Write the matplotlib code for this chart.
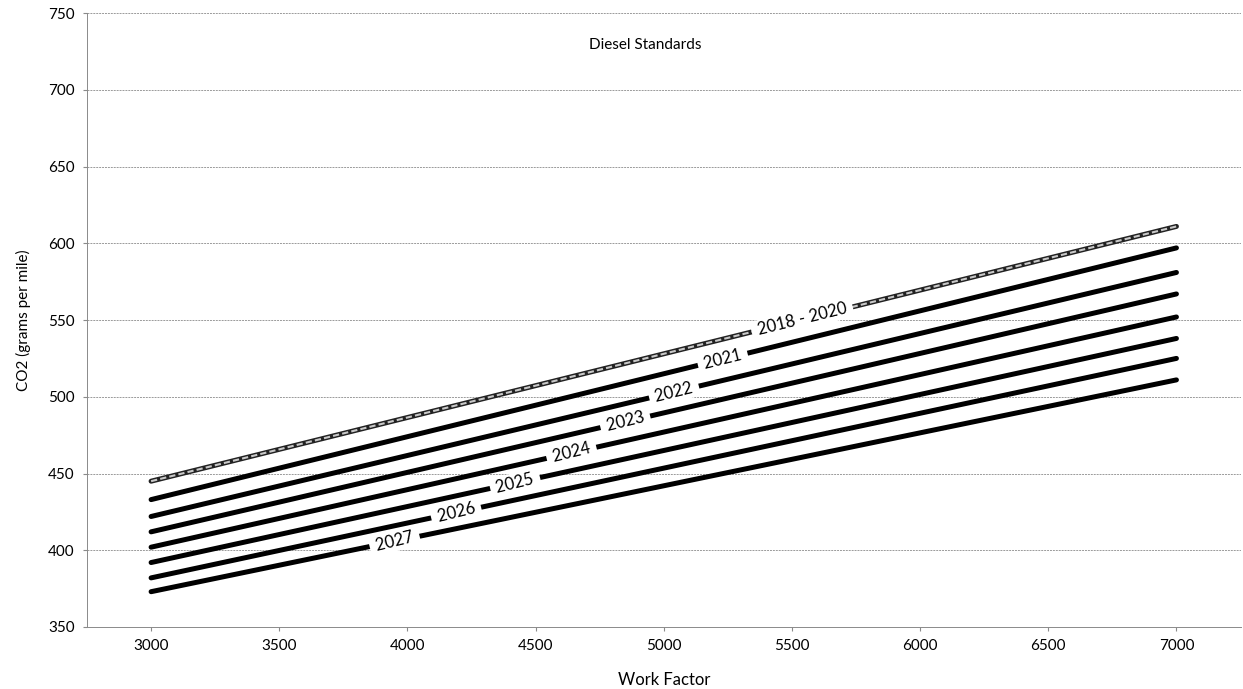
import matplotlib
matplotlib.use('Agg')
import matplotlib.pyplot as plt
import numpy as np

plt.rcParams['font.family'] = ['Lato', 'DejaVu Sans']

# 工作系数两个端点
work_factor = [3000, 7000]
years = ['2018 - 2020', '2021', '2022', '2023', '2024', '2025', '2026', '2027']
# 各年份在 3000 和 7000 处的 CO2 值
co2_start = [445, 433, 422, 412, 402, 392, 382, 373]
co2_end = [611, 597, 581, 567, 552, 538, 525, 511]
# 标签所在的横坐标
label_x = [5540, 5230, 5040, 4850, 4640, 4420, 4190, 3950]

fig = plt.figure(figsize=(12.43, 6.89), dpi=100)
ax = fig.add_axes([0.070, 0.090, 0.928, 0.891])
ax.set_xlim(2750, 7250)
ax.set_ylim(350, 750)
ax.set_xticks(np.arange(3000, 7001, 500))
ax.set_yticks(np.arange(350, 751, 50))

# 网格线
for yv in np.arange(400, 751, 50):
    ax.axhline(yv, color='#9a9a9a', lw=0.7, ls=(0, (2, 1)), zorder=1)

for s in ['top', 'right']:
    ax.spines[s].set_visible(False)
for s in ['left', 'bottom']:
    ax.spines[s].set_color('#8a8a8a')
    ax.spines[s].set_linewidth(0.7)
    ax.spines[s].set_linestyle((0, (2, 1)))
ax.tick_params(axis='both', length=3, color='#8a8a8a', labelsize=11, pad=6)

for i, name in enumerate(years):
    if i == 0:
        ax.plot(work_factor, [co2_start[i], co2_end[i]], color='#222222', lw=3.6,
                solid_capstyle='round', zorder=3)
        ax.plot(work_factor, [co2_start[i], co2_end[i]], color='#c8c8c8', lw=1.5,
                ls=(0, (3, 1.5)), zorder=4)
    else:
        ax.plot(work_factor, [co2_start[i], co2_end[i]], color='black', lw=3.6,
                solid_capstyle='round', zorder=3)

# 计算标签旋转角度
fig.canvas.draw()
p0 = ax.transData.transform((work_factor[0], co2_start[0]))
p1 = ax.transData.transform((work_factor[1], co2_end[0]))
angle = np.degrees(np.arctan2(p1[1] - p0[1], p1[0] - p0[0]))

for i, name in enumerate(years):
    t = (label_x[i] - work_factor[0]) / (work_factor[1] - work_factor[0])
    yv = co2_start[i] + t * (co2_end[i] - co2_start[i])
    ax.text(label_x[i], yv, ' ' + name + ' ', rotation=angle, rotation_mode='anchor',
            ha='center', va='center', fontsize=12, zorder=6,
            bbox=dict(facecolor='white', edgecolor='none', pad=1.5))

ax.text(0.484, 0.948, 'Diesel Standards', transform=ax.transAxes,
        ha='center', va='center', fontsize=11)
ax.set_xlabel('Work Factor', fontsize=12, labelpad=13)
ax.set_ylabel('CO2 (grams per mile)', fontsize=11, labelpad=12)

fig.savefig('out.png', dpi=100)
